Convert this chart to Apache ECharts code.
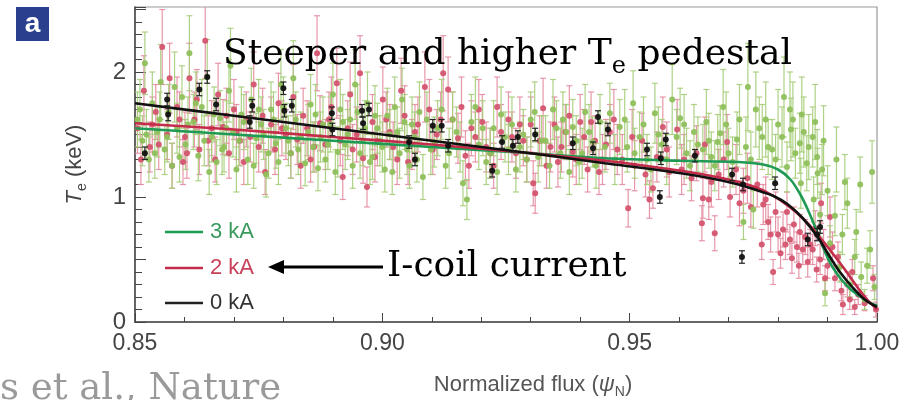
<!DOCTYPE html>
<html><head><meta charset="utf-8">
<script src="https://cdn.jsdelivr.net/npm/echarts@6/dist/echarts.min.js"></script>
<style>html,body{margin:0;padding:0;background:#fff}#c{width:904px;height:400px}</style>
</head><body><div id="c"></div>
<script>
// [psi, Te, err]
const green3kA = [
[0.8505,1.62,0.22],[0.8515,1.45,0.2],[0.852,2.07,0.25],[0.8528,1.30,0.18],[0.8535,1.75,0.25],[0.8545,1.52,0.2],[0.8552,1.92,0.3],[0.856,1.38,0.2],[0.8568,1.68,0.22],[0.8575,1.25,0.18],
[0.8585,1.55,0.2],[0.8595,1.80,0.25],[0.8602,1.42,0.2],[0.861,2.15,0.3],[0.8618,1.60,0.22],[0.8628,1.33,0.2],[0.8635,1.72,0.22],[0.8646,1.96,0.3],[0.8655,1.48,0.2],[0.8665,1.28,0.18],
[0.8672,1.63,0.22],[0.868,1.40,0.2],[0.869,1.85,0.25],[0.8698,1.52,0.2],[0.8705,1.22,0.18],[0.8715,1.66,0.22],[0.8728,1.30,0.2],[0.8735,1.78,0.25],[0.8745,1.47,0.2],[0.8755,1.58,0.22],
[0.8765,1.18,0.18],[0.8775,1.70,0.22],[0.8785,1.43,0.2],[0.8795,1.90,0.28],[0.8805,1.55,0.2],[0.8815,1.35,0.2],[0.8825,1.62,0.22],[0.8835,1.48,0.2],[0.8844,1.27,0.18],[0.8855,1.74,0.24],
[0.887,1.23,0.18],[0.888,1.58,0.22],[0.889,1.42,0.2],[0.89,1.82,0.25],[0.891,1.36,0.2],[0.892,1.60,0.22],[0.893,1.50,0.2],[0.894,1.25,0.18],[0.895,1.68,0.22],[0.896,1.45,0.2],
[0.897,1.75,0.25],[0.898,1.32,0.18],[0.899,1.55,0.2],[0.9,1.40,0.2],[0.901,1.65,0.22],[0.902,1.20,0.18],[0.903,1.52,0.2],[0.904,1.78,0.25],[0.905,1.38,0.2],[0.906,1.58,0.22],
[0.907,1.30,0.18],[0.9082,1.16,0.18],[0.909,1.62,0.22],[0.9105,1.44,0.2],[0.912,1.70,0.24],[0.9135,1.35,0.2],[0.915,1.52,0.2],[0.9163,1.11,0.18],[0.9171,0.98,0.16],[0.918,1.60,0.22],
[0.9195,1.42,0.2],[0.921,1.28,0.18],[0.9225,1.55,0.22],[0.924,1.66,0.22],[0.9255,1.38,0.2],[0.927,1.22,0.18],[0.9285,1.50,0.2],[0.93,1.62,0.22],[0.9315,1.32,0.2],[0.933,1.45,0.2],
[0.9345,1.70,0.24],[0.936,1.35,0.2],[0.9372,1.52,0.22],[0.9385,1.56,0.22],[0.9398,1.28,0.18],[0.941,1.68,0.22],[0.9425,1.44,0.2],[0.944,1.60,0.22],[0.946,1.67,0.24],[0.948,1.56,0.22],
[0.9495,1.40,0.2],[0.9507,1.75,0.26],[0.952,1.48,0.2],[0.9535,1.30,0.2],[0.9551,1.67,0.24],[0.9565,1.42,0.2],[0.9586,1.78,0.28],[0.9602,1.63,0.24],[0.9615,1.35,0.2],[0.963,1.52,0.22],
[0.9648,1.38,0.2],[0.966,1.45,0.22],[0.9672,1.25,0.2],[0.9683,1.51,0.22],[0.9689,1.72,0.3],[0.97,1.35,0.2],[0.9717,1.46,0.22],[0.973,0.80,0.14],[0.9739,1.88,0.35],[0.975,0.90,0.15],
[0.9762,1.55,0.25],[0.978,1.40,0.22],[0.9795,1.30,0.2],[0.9808,1.48,0.24],[0.9818,1.24,0.2],[0.9824,1.70,0.3],[0.9826,1.54,0.25],[0.9835,1.35,0.2],[0.9844,1.43,0.24],[0.9846,1.11,0.2],
[0.9848,1.66,0.3],[0.9858,1.27,0.22],[0.987,1.48,0.24],[0.9872,0.98,0.18],[0.9879,1.32,0.22],[0.988,1.19,0.2],[0.9889,1.22,0.2],[0.9895,0.23,0.1],[0.9905,0.63,0.14],[0.9915,0.85,0.16],
[0.9925,0.44,0.12],[0.9935,1.12,0.22],[0.9945,0.30,0.1],[0.9955,0.52,0.14],[0.9966,1.10,0.22],[0.9968,0.36,0.12],[0.9975,0.18,0.08],[0.9986,0.58,0.15],[0.999,1.20,0.25],[0.9995,0.28,0.1],
[0.8510,1.70,0.24],[0.8523,1.50,0.2],[0.8540,1.35,0.2],[0.8550,1.62,0.22],[0.8565,1.48,0.2],[0.8580,1.88,0.28],[0.8590,1.32,0.2],[0.8607,1.58,0.22],[0.8623,1.75,0.25],[0.8640,1.45,0.2],
[0.8650,1.20,0.18],[0.8660,1.66,0.22],[0.8676,1.38,0.2],[0.8685,1.55,0.22],[0.8693,2.05,0.3],[0.8710,1.45,0.2],[0.8720,1.60,0.22],[0.8740,1.25,0.18],[0.8750,1.70,0.24],[0.8760,1.50,0.2],
[0.8770,1.35,0.2],[0.8780,1.62,0.22],[0.8790,1.28,0.18],[0.8800,1.72,0.24],[0.8810,1.45,0.2],[0.8820,1.95,0.3],[0.8830,1.38,0.2],[0.8850,1.52,0.22],[0.8860,1.40,0.2],[0.8865,1.66,0.24],
[0.8875,1.48,0.2],[0.8885,1.30,0.18],[0.8895,1.58,0.22],[0.8905,1.20,0.18],[0.8915,1.70,0.24],[0.8925,1.42,0.2],[0.8935,1.62,0.22],[0.8945,1.90,0.28],[0.8955,1.35,0.2],[0.8965,1.55,0.22],
[0.8975,1.28,0.18],[0.8985,1.65,0.24],[0.8995,1.45,0.2],[0.9005,1.22,0.18],[0.9015,1.50,0.2],[0.9025,1.72,0.24],[0.9035,1.35,0.2],[0.9045,1.60,0.22],[0.9055,1.25,0.18],[0.9065,1.48,0.2],
[0.9075,1.68,0.24],[0.9098,1.38,0.2],[0.9112,1.55,0.22],[0.9128,1.25,0.18],[0.9142,1.62,0.22],[0.9157,1.40,0.2],[0.9188,1.72,0.24],[0.9203,1.55,0.22],[0.9218,1.35,0.2],[0.9232,1.20,0.18],
[0.9248,1.48,0.2],[0.9262,1.58,0.22],[0.9278,1.40,0.2],[0.9292,1.30,0.18],[0.9308,1.68,0.24],[0.9322,1.45,0.2],[0.9338,1.25,0.18],[0.9352,1.55,0.22],[0.9365,1.62,0.22],[0.9378,1.20,0.18],
[0.9392,1.45,0.2],[0.9404,1.35,0.2],[0.9418,1.52,0.22],[0.9432,1.25,0.18],[0.945,1.40,0.2],[0.947,1.30,0.2],[0.949,1.62,0.24],[0.951,1.35,0.2],[0.9528,1.58,0.22],[0.9543,1.22,0.18],
[0.9558,1.50,0.22],[0.9575,1.30,0.2],[0.9595,1.48,0.22],[0.961,1.58,0.24],[0.9622,1.25,0.2],[0.9638,1.42,0.22],[0.9655,1.60,0.26],[0.9665,1.32,0.2],[0.9678,1.44,0.22],[0.9695,1.58,0.26],
[0.9708,1.28,0.2],[0.9722,1.62,0.28],[0.9735,1.40,0.24],[0.9745,1.30,0.22],[0.9755,1.70,0.3],[0.9768,1.48,0.26],[0.9775,1.62,0.3],[0.9788,1.38,0.24],[0.980,1.58,0.28],[0.9812,1.80,0.32],
[0.983,1.62,0.3],[0.9852,1.52,0.28],[0.9862,1.40,0.26],[0.9875,1.60,0.3],[0.9885,0.86,0.18],[0.9892,1.45,0.28],[0.990,1.05,0.2],[0.9918,1.30,0.26],[0.993,0.70,0.16],[0.994,0.95,0.2],
[0.9958,0.72,0.18],[0.998,0.45,0.14]
];
const red2kA = [
[0.8505,1.55,0.2],[0.8518,1.85,0.28],[0.853,1.40,0.2],[0.8542,1.68,0.22],[0.8555,2.20,0.3],[0.8565,1.50,0.2],[0.8575,1.25,0.18],[0.8585,1.72,0.24],[0.8597,1.28,0.18],[0.8601,1.48,0.2],
[0.861,1.95,0.28],[0.862,1.62,0.22],[0.863,1.38,0.2],[0.8642,2.25,0.3],[0.8655,1.55,0.22],[0.8668,1.82,0.25],[0.8678,1.56,0.22],[0.869,1.35,0.2],[0.870,1.70,0.24],[0.8712,1.45,0.2],
[0.8725,1.62,0.22],[0.874,1.90,0.26],[0.875,1.40,0.2],[0.8763,1.20,0.18],[0.8775,1.58,0.22],[0.879,1.75,0.24],[0.8805,1.50,0.2],[0.8815,1.35,0.2],[0.8828,1.46,0.2],[0.884,1.65,0.22],
[0.8855,1.30,0.18],[0.8868,2.15,0.3],[0.8874,1.59,0.22],[0.8885,1.42,0.2],[0.8897,1.72,0.24],[0.8908,1.91,0.28],[0.892,1.16,0.18],[0.893,1.55,0.22],[0.894,1.38,0.2],[0.8955,1.99,0.3],
[0.8961,1.31,0.2],[0.8969,1.08,0.16],[0.898,1.60,0.22],[0.899,1.45,0.2],[0.9001,1.78,0.26],[0.9015,1.52,0.22],[0.903,1.30,0.2],[0.9045,1.65,0.24],[0.906,1.42,0.2],[0.9072,1.58,0.22],
[0.9086,1.88,0.28],[0.9095,1.70,0.24],[0.911,1.50,0.2],[0.9123,1.99,0.3],[0.9133,1.86,0.26],[0.9142,1.62,0.22],[0.9153,1.47,0.2],[0.9168,1.33,0.2],[0.918,1.55,0.22],[0.9195,1.70,0.24],
[0.921,1.40,0.2],[0.9225,1.25,0.18],[0.924,1.52,0.22],[0.9255,1.62,0.22],[0.927,1.35,0.2],[0.9285,1.45,0.2],[0.93,1.58,0.22],[0.9305,1.11,0.18],[0.9309,1.03,0.16],[0.9325,1.71,0.24],
[0.934,1.40,0.2],[0.9355,1.28,0.2],[0.937,1.52,0.22],[0.9385,1.36,0.2],[0.94,1.60,0.22],[0.9415,1.22,0.18],[0.943,1.45,0.2],[0.9445,1.30,0.2],[0.946,1.52,0.22],[0.9475,1.38,0.2],
[0.9497,0.91,0.15],[0.951,1.25,0.2],[0.9525,1.45,0.22],[0.954,0.98,0.15],[0.9547,1.07,0.16],[0.9555,1.32,0.2],[0.9567,1.56,0.24],[0.958,1.20,0.2],[0.9596,1.54,0.24],[0.961,1.30,0.2],
[0.9625,1.15,0.18],[0.9646,0.79,0.14],[0.9648,0.99,0.16],[0.9652,1.42,0.22],[0.966,0.98,0.16],[0.9672,0.71,0.14],[0.968,1.18,0.2],[0.9697,1.44,0.22],[0.9703,1.00,0.16],[0.9715,1.22,0.2],
[0.973,1.05,0.18],[0.9745,0.92,0.16],[0.9758,1.10,0.18],[0.9767,0.62,0.12],[0.977,0.94,0.16],[0.978,0.80,0.14],[0.979,0.40,0.1],[0.98,0.70,0.14],[0.981,0.74,0.14],[0.9818,0.88,0.16],
[0.9824,0.66,0.12],[0.9828,0.51,0.12],[0.9838,0.60,0.12],[0.9844,0.72,0.14],[0.985,0.58,0.12],[0.986,0.48,0.12],[0.987,0.58,0.12],[0.9878,0.42,0.1],[0.9885,0.50,0.12],[0.9887,0.95,0.16],
[0.9895,0.35,0.1],[0.9905,0.84,0.16],[0.991,0.60,0.12],[0.9921,0.52,0.12],[0.9931,0.14,0.08],[0.994,0.30,0.1],[0.995,0.40,0.1],[0.9962,0.22,0.08],[0.9975,0.15,0.06],[0.9992,0.35,0.1],[0.9998,0.10,0.06],
[0.8512,1.30,0.2],[0.8535,1.58,0.22],[0.8548,1.42,0.2],[0.857,1.95,0.28],[0.859,1.62,0.22],[0.8605,1.35,0.2],[0.8625,1.78,0.24],[0.8648,1.45,0.2],[0.8662,1.30,0.18],[0.8685,1.65,0.22],
[0.8705,1.52,0.22],[0.872,1.28,0.18],[0.8733,1.48,0.2],[0.8758,1.65,0.22],[0.8783,1.38,0.2],[0.8797,1.55,0.22],[0.882,1.80,0.26],[0.8835,1.25,0.18],[0.8848,1.55,0.22],[0.8862,1.40,0.2],
[0.8892,1.62,0.22],[0.8915,1.45,0.2],[0.8935,1.82,0.26],[0.8948,1.50,0.22],[0.8985,1.32,0.2],[0.9008,1.62,0.22],[0.9022,1.40,0.2],[0.9038,1.85,0.26],[0.9052,1.28,0.18],[0.9066,1.52,0.22],
[0.9102,1.38,0.2],[0.9118,1.62,0.22],[0.916,1.72,0.24],[0.9175,1.25,0.18],[0.9188,1.48,0.2],[0.9202,1.60,0.22],[0.9218,1.35,0.2],[0.9232,1.72,0.24],[0.9262,1.48,0.2],[0.9278,1.58,0.22],
[0.9292,1.30,0.18],[0.9318,1.45,0.2],[0.9332,1.25,0.18],[0.9348,1.58,0.22],[0.9362,1.40,0.2],[0.9378,1.65,0.24],[0.9392,1.30,0.2],[0.9408,1.48,0.22],[0.9422,1.60,0.24],[0.9438,1.20,0.18],
[0.9452,1.42,0.2],[0.9468,1.62,0.24],[0.9485,1.30,0.2],[0.9505,1.48,0.22],[0.9532,1.18,0.18],[0.9575,1.38,0.22],[0.9605,1.22,0.2],[0.9635,1.35,0.22],[0.9665,1.12,0.2],[0.969,1.30,0.22],
[0.9722,0.95,0.18],[0.9738,1.15,0.2],[0.9775,0.98,0.18],[0.9785,0.70,0.14],[0.9795,0.88,0.16],[0.9805,0.55,0.12],[0.9815,0.62,0.12],[0.9832,0.78,0.14],[0.9842,0.45,0.1],[0.9855,0.68,0.14],
[0.9865,0.62,0.12],[0.9875,0.75,0.14],[0.9892,0.62,0.12],[0.990,0.45,0.1],[0.9915,0.35,0.1],[0.9928,0.25,0.08],[0.9945,0.18,0.08],[0.9955,0.12,0.06]
];
const black0kA = [
[0.852,1.35,0.05],[0.8565,1.78,0.05],[0.8567,1.66,0.05],[0.863,1.86,0.05],[0.8646,1.96,0.05],[0.8664,1.74,0.05],[0.8737,1.73,0.05],[0.8732,1.60,0.05],[0.880,1.87,0.05],[0.8802,1.69,0.05],
[0.8817,1.73,0.05],[0.8898,1.67,0.05],[0.8899,1.54,0.05],[0.8959,1.69,0.05],[0.8973,1.70,0.05],[0.8961,1.59,0.05],[0.9054,1.44,0.05],[0.9066,1.30,0.05],[0.9102,1.57,0.05],[0.912,1.57,0.05],
[0.9133,1.41,0.05],[0.9222,1.21,0.05],[0.9242,1.44,0.05],[0.9264,1.41,0.05],[0.9274,1.48,0.05],[0.9309,1.50,0.05],[0.9385,1.43,0.05],[0.9426,1.39,0.05],[0.9436,1.64,0.05],[0.9456,1.54,0.05],
[0.9535,1.38,0.05],[0.9561,1.00,0.05],[0.9563,1.31,0.05],[0.9573,1.46,0.05],[0.9632,1.33,0.05],[0.9707,1.18,0.05],[0.9727,0.52,0.05],[0.9729,1.10,0.05],[0.9794,1.11,0.05],[0.986,0.66,0.05],
[0.9879,0.70,0.05],[0.9885,0.76,0.05]
];
// fitted profiles [psi, Te]
const fit3kA = [[0.85,1.55],[0.87,1.50],[0.89,1.45],[0.91,1.40],[0.93,1.35],[0.945,1.31],[0.96,1.29],[0.972,1.28],[0.977,1.26],[0.980,1.22],[0.9825,1.14],[0.9845,1.02],[0.986,0.90],[0.988,0.71],[0.9895,0.56],[0.991,0.44],[0.993,0.33],[0.995,0.25],[0.9975,0.18],[1.0,0.13]];
const fit2kA = [[0.85,1.59],[0.87,1.54],[0.89,1.48],[0.91,1.42],[0.93,1.35],[0.945,1.29],[0.955,1.24],[0.965,1.18],[0.972,1.12],[0.976,1.07],[0.979,1.01],[0.982,0.93],[0.985,0.83],[0.988,0.70],[0.991,0.55],[0.9935,0.42],[0.996,0.28],[0.998,0.18],[1.0,0.10]];
const fit0kA = [[0.85,1.75],[0.87,1.65],[0.89,1.55],[0.91,1.45],[0.93,1.35],[0.945,1.27],[0.955,1.22],[0.965,1.16],[0.972,1.10],[0.976,1.05],[0.979,1.01],[0.982,0.94],[0.985,0.83],[0.988,0.68],[0.9905,0.52],[0.9925,0.40],[0.995,0.28],[0.9975,0.18],[1.0,0.12]];
const legendLabels = ['3 kA','2 kA','0 kA'];
const xTicks = [0.85, 0.90, 0.95, 1.00];
const yTickLabels = [0, 1, 2];

const C = {
  gLine:'#1f9a55', rLine:'#c42c4c', kLine:'#111',
  gPt:'#8fc05c', rPt:'#d4546f', gErr:'rgba(165,205,120,0.9)', rErr:'rgba(228,140,160,0.9)'
};
function errSeries(data, color){
  return {type:'custom', clip:true, silent:true,
    data: data.map(d=>[d[0], d[1]-d[2], d[1]+d[2]]),
    encode:{x:0, y:[1,2]},
    renderItem:function(params, api){
      const a = api.coord([api.value(0), api.value(1)]);
      const b = api.coord([api.value(0), api.value(2)]);
      const w = 3;
      const st = {stroke:color, lineWidth:1.2};
      return {type:'group', children:[
        {type:'line', shape:{x1:a[0],y1:a[1],x2:b[0],y2:b[1]}, style:st},
        {type:'line', shape:{x1:a[0]-w,y1:a[1],x2:a[0]+w,y2:a[1]}, style:st},
        {type:'line', shape:{x1:b[0]-w,y1:b[1],x2:b[0]+w,y2:b[1]}, style:st}
      ]};
    }};
}
function ptSeries(data, color, size){
  return {type:'scatter', silent:true, symbol:'circle', symbolSize:size, clip:true,
    itemStyle:{color:color, opacity:0.95}, data:data.map(d=>[d[0],d[1]])};
}
function fitSeries(data, color){
  return {type:'line', silent:true, smooth:0.35, symbol:'none', data:data,
    lineStyle:{color:color, width:2.6}, z:5};
}
const sans = '"Liberation Sans", Arial, sans-serif';
const serif = '"DejaVu Serif", Georgia, serif';
const chart = echarts.init(document.getElementById('c'), null, {renderer:'canvas'});
chart.setOption({
  animation:false,
  backgroundColor:'#fff',
  grid:{left:135, right:27, top:7, bottom:78, show:true, borderColor:'#9a9a9a', borderWidth:1.2, backgroundColor:'#fff'},
  xAxis:{type:'value', min:0.85, max:1.0, interval:0.05,
    axisLine:{lineStyle:{color:'#444', width:1.5}},
    axisTick:{inside:true, length:9, lineStyle:{color:'#444'}},
    minorTick:{show:true, splitNumber:5, length:5, lineStyle:{color:'#444'}},
    splitLine:{show:false},
    axisLabel:{margin:10, color:'#444', fontSize:23, fontFamily:sans,
      formatter:v=>{const t=xTicks.find(x=>Math.abs(x-v)<1e-6); return t===undefined?'':t.toFixed(2);}}
  },
  yAxis:{type:'value', min:0, max:2.52, interval:0.5,
    axisLine:{lineStyle:{color:'#444', width:1.5}},
    axisTick:{inside:true, length:11, lineStyle:{color:'#444'}},
    minorTick:{show:true, splitNumber:5, length:7, lineStyle:{color:'#444'}},
    splitLine:{show:false},
    axisLabel:{margin:9, color:'#444', fontSize:24, fontFamily:sans,
      formatter:v=>{const t=yTickLabels.find(x=>Math.abs(x-v)<1e-6); return t===undefined?'':String(t);}},
    name:'{i|T}{s|e}{n| (keV)}', nameLocation:'middle', nameRotate:90, nameGap:46,
    nameTextStyle:{color:'#444', rich:{
      i:{fontSize:22, fontStyle:'italic', fontFamily:sans, color:'#444', lineHeight:28},
      s:{fontSize:14, fontFamily:sans, color:'#444', verticalAlign:'bottom'},
      n:{fontSize:22, fontFamily:sans, color:'#444', lineHeight:28}}}
  },
  series:[
    errSeries(red2kA, C.rErr), errSeries(green3kA, C.gErr),
    ptSeries(red2kA, C.rPt, 6), ptSeries(green3kA, C.gPt, 6),
    fitSeries(fit3kA, C.gLine), fitSeries(fit2kA, C.rLine), fitSeries(fit0kA, C.kLine),
    Object.assign(errSeries(black0kA, '#222'), {z:6}),
    Object.assign(ptSeries(black0kA, '#111', 6), {z:7})
  ],
  graphic:[
    {type:'rect', left:16, top:7, shape:{width:33, height:34}, style:{fill:'#2a3f8e'}, z:10},
    {type:'text', x:32.5, y:24, style:{text:'a', fill:'#fff', font:'bold 28px '+sans, align:'center', verticalAlign:'middle'}, z:11},
    {type:'text', x:223, y:31, z:20, style:{text:'{a|Steeper and higher T}{s|e}{a| pedestal}', align:'left', verticalAlign:'top',
      rich:{a:{fontSize:36, fontFamily:serif, fill:'#000', lineHeight:48},
            s:{fontSize:24, fontFamily:serif, fill:'#000', verticalAlign:'bottom'}}}},
    {type:'text', x:387, y:267, z:20, style:{text:'I-coil current', fill:'#000', font:'36px '+serif, align:'left', verticalAlign:'middle'}},
    {type:'line', z:20, shape:{x1:383, y1:267, x2:280, y2:267}, style:{stroke:'#000', lineWidth:3}},
    {type:'polygon', z:20, shape:{points:[[268,267],[284,260],[284,274]]}, style:{fill:'#000'}},
    {type:'line', z:20, shape:{x1:165, y1:232, x2:203, y2:232}, style:{stroke:C.gLine, lineWidth:2.6}},
    {type:'line', z:20, shape:{x1:165, y1:268, x2:203, y2:268}, style:{stroke:C.rLine, lineWidth:2.6}},
    {type:'line', z:20, shape:{x1:165, y1:303, x2:203, y2:303}, style:{stroke:'#222', lineWidth:2.6}},
    {type:'text', z:20, x:210, y:232, style:{text:legendLabels[0], fill:'#3a9a5e', font:'22px '+sans, verticalAlign:'middle'}},
    {type:'text', z:20, x:210, y:268, style:{text:legendLabels[1], fill:'#c8405a', font:'22px '+sans, verticalAlign:'middle'}},
    {type:'text', z:20, x:210, y:303, style:{text:legendLabels[2], fill:'#333', font:'22px '+sans, verticalAlign:'middle'}},
    {type:'text', z:20, x:533, y:385, style:{text:'{n|Normalized flux (}{i|ψ}{s|N}{n|)}', align:'center', verticalAlign:'middle',
      rich:{n:{fontSize:22, fontFamily:sans, fill:'#555', lineHeight:28},
            i:{fontSize:22, fontFamily:sans, fontStyle:'italic', fill:'#555', lineHeight:28},
            s:{fontSize:14, fontFamily:sans, fill:'#555', verticalAlign:'bottom'}}}},
    {type:'text', z:20, x:0, y:408, style:{text:'s et al., Nature', fill:'#9a9a9a', font:'37px '+serif, align:'left', verticalAlign:'bottom'}}
  ]
});
</script></body></html>
